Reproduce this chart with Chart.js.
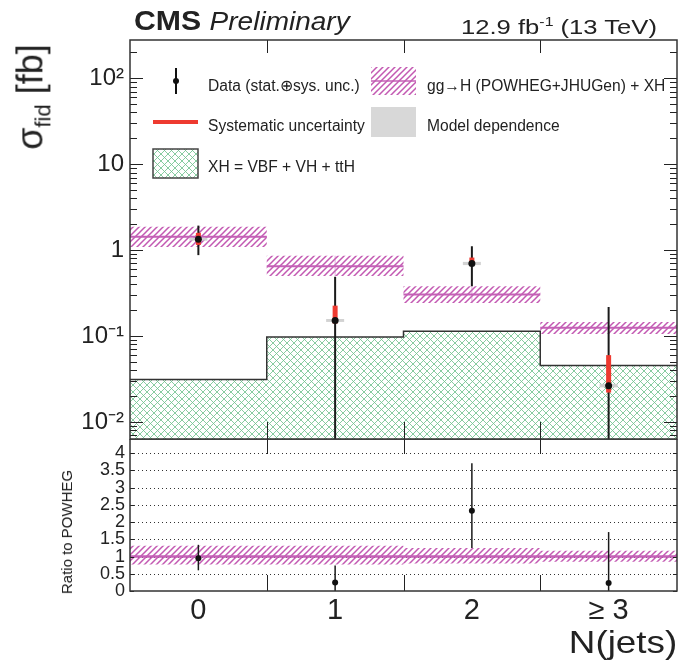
<!DOCTYPE html>
<html><head><meta charset="utf-8">
<script src="https://cdn.jsdelivr.net/npm/chart.js@4/dist/chart.umd.min.js"></script>
<style>
html,body{margin:0;padding:0;background:#fff;}
body{width:679px;height:672px;overflow:hidden;position:relative;font-family:"Liberation Sans",Arial,sans-serif;color:#222;}
canvas{position:absolute;left:0;}
#topc{top:0;}
#botc{top:439px;}
.t{position:absolute;white-space:nowrap;line-height:16px;font-size:15.6px;}
</style></head><body>
<canvas id="topc" width="679" height="440"></canvas>
<canvas id="botc" width="679" height="233"></canvas>

<div class="t" style="left:134px;top:6px;line-height:30px;font-size:27px;transform-origin:0 50%;transform:scaleX(1.12);"><b>CMS</b> <i style="font-size:25px">Preliminary</i></div>
<div class="t" style="left:461px;top:9px;line-height:26px;font-size:21px;transform-origin:0 50%;transform:scaleX(1.22);">12.9 fb<sup style="font-size:13px">-1</sup> (13 TeV)</div>

<div class="t" style="left:208px;top:78px;">Data (stat.⊕sys. unc.)</div>
<div class="t" style="left:427px;top:78px;">gg→H (POWHEG+JHUGen) + XH</div>
<div class="t" style="left:208px;top:118px;">Systematic uncertainty</div>
<div class="t" style="left:427px;top:118px;">Model dependence</div>
<div class="t" style="left:208px;top:159px;">XH = VBF + VH + ttH</div>

<div class="t" style="left:37px;top:97px;line-height:40px;font-size:36px;transform:translate(-50%,-50%) rotate(-90deg);">σ<sub style="font-size:22px">fid</sub> [fb]</div>
<div class="t" style="left:67px;top:532px;font-size:15px;transform:translate(-50%,-50%) rotate(-90deg);">Ratio to POWHEG</div>
<div class="t" style="right:2px;top:624px;line-height:36px;font-size:32px;transform-origin:100% 50%;transform:scaleX(1.15);">N(jets)</div>

<script>
// ---------------- data ----------------
const categories = ['0', '1', '2', '\u2265 3'];
const binCenters = [0, 1, 2, 3];
const binEdges = [-0.5, 0.5, 1.5, 2.5, 3.5];

// gg->H (POWHEG+JHUGen) + XH prediction and its band
const ggH   = [1.43, 0.65, 0.304, 0.125];
const ggHLo = [1.09, 0.50, 0.243, 0.106];
const ggHHi = [1.87, 0.86, 0.38, 0.146];

// XH = VBF + VH + ttH
const xh = [0.0312, 0.0977, 0.114, 0.0455];

// measured data
const dataVal = [1.34, 0.152, 0.70, 0.0265];
const dataLo  = [0.875, 0, 0.38, 0];
const dataHi  = [1.93, 0.49, 1.11, 0.218];
const sysLo   = [1.15, 0.14, 0.68, 0.022];
const sysHi   = [1.59, 0.226, 0.82, 0.060];
const modelLo = [1.29, 0.146, 0.67, 0.0253];
const modelHi = [1.39, 0.158, 0.73, 0.0278];

// ratio to POWHEG
const ratioVal    = [0.95, 0.25, 2.33, 0.23];
const ratioLo     = [0.60, 0, 1.25, 0];
const ratioHi     = [1.34, 0.74, 3.71, 1.71];
const ratioCentral= [1, 1, 1, 1];
const ratioBandLo = [0.77, 0.77, 0.80, 0.85];
const ratioBandHi = [1.31, 1.31, 1.25, 1.17];

// axis ranges and tick labels
const topMin = 0.00634, topMax = 279;
const ratioMin = 0, ratioMax = 4.41;
const decadeValues = [0.01, 0.1, 1, 10, 100];
const decadeLabels = ['10\u207B\u00B2', '10\u207B\u00B9', '1', '10', '10\u00B2'];
const ratioTicks = [0, 0.5, 1, 1.5, 2, 2.5, 3, 3.5, 4];
const ratioTickLabels = ['0', '0.5', '1', '1.5', '2', '2.5', '3', '3.5', '4'];

// ---------------- styles ----------------
const FONT = 'Liberation Sans';
function makeHatch(color, s, lw, cross) {
  const c = document.createElement('canvas');
  c.width = c.height = s;
  const g = c.getContext('2d');
  g.strokeStyle = color; g.lineWidth = lw;
  g.beginPath();
  g.moveTo(-1, s + 1); g.lineTo(s + 1, -1);
  g.moveTo(-1, 1); g.lineTo(1, -1);
  g.moveTo(s - 1, s + 1); g.lineTo(s + 1, s - 1);
  if (cross) {
    g.moveTo(-1, -1); g.lineTo(s + 1, s + 1);
    g.moveTo(s - 1, -1); g.lineTo(s + 1, 1);
    g.moveTo(-1, s - 1); g.lineTo(1, s + 1);
  }
  g.stroke();
  return g.createPattern(c, 'repeat');
}
const magentaHatch = makeHatch('rgba(185,60,165,0.85)', 6, 1.5, false);
const greenHatch = makeHatch('rgba(115,195,145,0.85)', 7, 1, true);
const MAGENTA = 'rgb(196,96,182)';
const RED = '#ee3a30';
const GREY = 'rgba(208,208,208,0.95)';

// on the log axis a lower edge of 0 is clipped to the axis minimum
function logSafe(v) { return v > 0 ? v : topMin; }
function binBars(lo, hi, safe) { return binCenters.map((x, i) => ({ x: x, y: [safe ? logSafe(lo[i]) : lo[i], hi[i]] })); }
function binPoints(v) { return binCenters.map((x, i) => ({ x: x, y: v[i] })); }
function binSteps(v) {
  const pts = [];
  v.forEach((y, i) => { pts.push({ x: binEdges[i], y: y }, { x: binEdges[i + 1], y: y }, { x: binEdges[i + 1], y: null }); });
  return pts;
}
function histOutline(v) { return binEdges.map((x, i) => ({ x: x, y: v[Math.min(i, v.length - 1)] })); }
function noPad(s) { s.paddingTop = 0; s.paddingBottom = 0; s.paddingLeft = 0; s.paddingRight = 0; }

const common = {
  responsive: false, animation: false, devicePixelRatio: 1, events: [],
  plugins: { legend: { display: false }, tooltip: { enabled: false } }
};
const barOpts = { type: 'bar', grouped: false, barPercentage: 1, categoryPercentage: 1, borderWidth: 0, inflateAmount: 0 };

// ---------------- top panel ----------------
const topDecor = {
  id: 'topDecor',
  afterDatasetsDraw(chart) {
    const { ctx, chartArea: a, scales: { x, y } } = chart;
    ctx.save();
    ctx.strokeStyle = '#222'; ctx.lineWidth = 1;
    ctx.beginPath();
    for (let e = -4; e <= 4; e++) for (let m = 1; m < 10; m++) {
      const v = m * Math.pow(10, e);
      if (v < y.min || v > y.max) continue;
      const py = Math.round(y.getPixelForValue(v)) + 0.5;
      const L = m === 1 ? 13 : 7;
      ctx.moveTo(a.left, py); ctx.lineTo(a.left + L, py);
      ctx.moveTo(a.right, py); ctx.lineTo(a.right - L, py);
    }
    binEdges.slice(1, -1).forEach(v => {
      const px = Math.round(x.getPixelForValue(v)) + 0.5;
      ctx.moveTo(px, a.top); ctx.lineTo(px, a.top + 13);
      ctx.moveTo(px, a.bottom); ctx.lineTo(px, a.bottom - 17);
    });
    ctx.stroke();
    ctx.lineWidth = 1.5; ctx.strokeStyle = '#333';
    ctx.strokeRect(a.left, a.top, a.right - a.left, a.bottom - a.top);
    ctx.restore();
  },
  afterDraw(chart) {
    const ctx = chart.ctx;
    ctx.save();
    ctx.strokeStyle = '#111'; ctx.lineWidth = 2;
    ctx.beginPath(); ctx.moveTo(176, 68); ctx.lineTo(176, 94); ctx.stroke();
    ctx.fillStyle = '#111'; ctx.beginPath(); ctx.arc(176, 81, 3, 0, 2 * Math.PI); ctx.fill();
    ctx.strokeStyle = RED; ctx.lineWidth = 4;
    ctx.beginPath(); ctx.moveTo(153, 122); ctx.lineTo(198, 122); ctx.stroke();
    ctx.fillStyle = greenHatch; ctx.fillRect(153, 149, 45, 29);
    ctx.strokeStyle = '#444'; ctx.lineWidth = 1.5; ctx.strokeRect(153, 149, 45, 29);
    ctx.fillStyle = magentaHatch; ctx.fillRect(371, 67, 45, 28);
    ctx.strokeStyle = MAGENTA; ctx.lineWidth = 1.5;
    ctx.beginPath(); ctx.moveTo(371, 81); ctx.lineTo(416, 81); ctx.stroke();
    ctx.fillStyle = '#d8d8d8'; ctx.fillRect(371, 107, 45, 30);
    ctx.restore();
  }
};

new Chart(document.getElementById('topc'), {
  type: 'bar',
  data: {
    datasets: [
      { type: 'line', data: histOutline(xh), stepped: true, fill: 'start', backgroundColor: greenHatch,
        borderColor: '#333', borderWidth: 1.5, pointRadius: 0, order: 7 },
      Object.assign({}, barOpts, { data: binBars(ggHLo, ggHHi, true), backgroundColor: magentaHatch, order: 6 }),
      Object.assign({}, barOpts, { data: binBars(ggHLo, ggHHi, true), backgroundColor: 'rgba(200,110,190,0.55)', barThickness: 1, order: 5 }),
      { type: 'line', data: binSteps(ggH), borderColor: MAGENTA, borderWidth: 2, pointRadius: 0, spanGaps: false, fill: false, order: 4 },
      Object.assign({}, barOpts, { data: binBars(modelLo, modelHi, true), backgroundColor: GREY, barThickness: 18, order: 3 }),
      Object.assign({}, barOpts, { data: binBars(dataLo, dataHi, true), backgroundColor: '#1a1a1a', barThickness: 2, order: 2 }),
      Object.assign({}, barOpts, { data: binBars(sysLo, sysHi, true), backgroundColor: RED, barThickness: 5, order: 1 }),
      { type: 'line', data: binPoints(dataVal), showLine: false, pointRadius: 3.5, pointBackgroundColor: '#111', pointBorderWidth: 0, order: 0 }
    ]
  },
  options: Object.assign({}, common, {
    layout: { autoPadding: false, padding: { left: 0, top: 40, right: 2, bottom: 1 } },
    scales: {
      x: { type: 'linear', min: -0.5, max: 3.5, offset: false, display: false,
           afterFit: noPad,
           afterBuildTicks: s => { s.ticks = binCenters.map(v => ({ value: v })); } },
      y: { type: 'logarithmic', min: topMin, max: topMax,
           grid: { display: false, drawTicks: false }, border: { display: false },
           afterFit: s => { s.width = 130; noPad(s); },
           afterBuildTicks: s => { s.ticks = decadeValues.map(v => ({ value: v })); },
           ticks: { autoSkip: false, padding: 6, color: '#222', font: { family: FONT, size: 24 },
                    callback: (v) => { const i = decadeValues.findIndex(d => Math.abs(d - v) / d < 1e-6); return i >= 0 ? decadeLabels[i] : ''; } } }
    }
  }),
  plugins: [topDecor]
});

// ---------------- ratio panel ----------------
const botDecor = {
  id: 'botDecor',
  beforeDatasetsDraw(chart) {
    const { ctx, chartArea: a, scales: { y } } = chart;
    ctx.save();
    ctx.strokeStyle = '#333'; ctx.lineWidth = 1; ctx.setLineDash([1, 3]);
    ctx.beginPath();
    ratioTicks.slice(1).forEach(v => {
      const py = Math.round(y.getPixelForValue(v)) + 0.5;
      ctx.moveTo(a.left, py); ctx.lineTo(a.right, py);
    });
    ctx.stroke();
    ctx.restore();
  },
  afterDatasetsDraw(chart) {
    const { ctx, chartArea: a, scales: { x, y } } = chart;
    ctx.save();
    ctx.strokeStyle = '#222'; ctx.lineWidth = 1;
    ctx.beginPath();
    ratioTicks.forEach(v => {
      const py = Math.round(y.getPixelForValue(v)) + 0.5;
      ctx.moveTo(a.left, py); ctx.lineTo(a.left + 4, py);
      ctx.moveTo(a.right, py); ctx.lineTo(a.right - 4, py);
    });
    binEdges.slice(1, -1).forEach(v => {
      const px = Math.round(x.getPixelForValue(v)) + 0.5;
      ctx.moveTo(px, a.top); ctx.lineTo(px, a.top + 15);
      ctx.moveTo(px, a.bottom); ctx.lineTo(px, a.bottom - 16);
    });
    ctx.stroke();
    ctx.lineWidth = 1.5; ctx.strokeStyle = '#333';
    ctx.strokeRect(a.left, a.top, a.right - a.left, a.bottom - a.top);
    ctx.restore();
  }
};

new Chart(document.getElementById('botc'), {
  type: 'bar',
  data: {
    datasets: [
      Object.assign({}, barOpts, { data: binBars(ratioBandLo, ratioBandHi), backgroundColor: magentaHatch, order: 3 }),
      { type: 'line', data: binSteps(ratioCentral), borderColor: MAGENTA, borderWidth: 2.5, pointRadius: 0, spanGaps: false, fill: false, order: 2 },
      Object.assign({}, barOpts, { data: binBars(ratioLo, ratioHi), backgroundColor: '#1a1a1a', barThickness: 1.5, order: 1 }),
      { type: 'line', data: binPoints(ratioVal), showLine: false, pointRadius: 3, pointBackgroundColor: '#111', pointBorderWidth: 0, order: 0 }
    ]
  },
  options: Object.assign({}, common, {
    layout: { autoPadding: false, padding: { left: 0, top: 0, right: 2, bottom: 0 } },
    scales: {
      x: { type: 'linear', min: -0.5, max: 3.5, offset: false,
           grid: { display: false, drawTicks: false }, border: { display: false },
           afterFit: s => { s.height = 81; noPad(s); },
           afterBuildTicks: s => { s.ticks = binCenters.map(v => ({ value: v })); },
           ticks: { autoSkip: false, maxRotation: 0, padding: 3, color: '#222', font: { family: FONT, size: 29 },
                    callback: (v) => { const i = binCenters.indexOf(v); return i >= 0 ? categories[i] : ''; } } },
      y: { type: 'linear', min: ratioMin, max: ratioMax,
           grid: { display: false, drawTicks: false }, border: { display: false },
           afterFit: s => { s.width = 130; noPad(s); },
           afterBuildTicks: s => { s.ticks = ratioTicks.map(v => ({ value: v })); },
           ticks: { autoSkip: false, padding: 5, color: '#222', font: { family: FONT, size: 18 },
                    callback: (v) => { const i = ratioTicks.indexOf(v); return i >= 0 ? ratioTickLabels[i] : ''; } } }
    }
  }),
  plugins: [botDecor]
});
</script>
</body></html>
